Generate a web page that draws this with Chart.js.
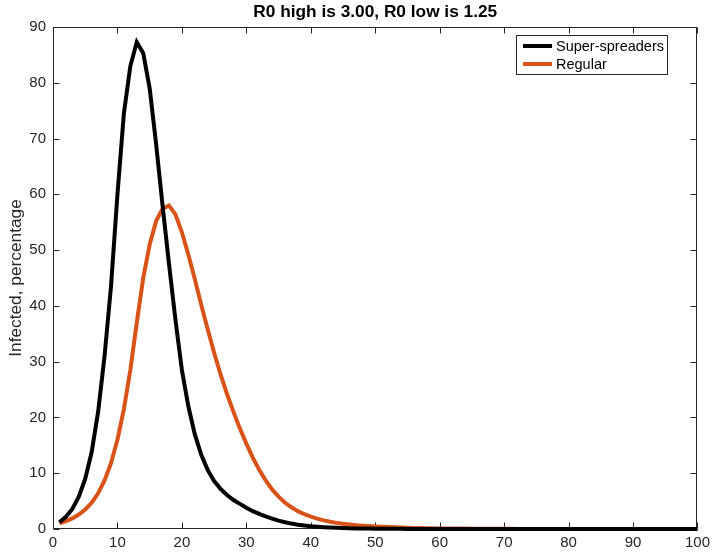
<!DOCTYPE html>
<html>
<head>
<meta charset="utf-8">
<script src="https://cdn.jsdelivr.net/npm/chart.js@4.4.0/dist/chart.umd.min.js"></script>
<style>
  html, body { margin: 0; padding: 0; background: #fff; }
  #wrap { width: 715px; height: 554px; }
</style>
</head>
<body>
<div id="wrap"><canvas id="sirChart" width="715" height="554"></canvas></div>
<script>
// days of the simulation
const days = [
    1, 2, 3, 4, 5, 6, 7, 8, 9, 10, 11, 12, 13, 14, 15, 16, 17, 18, 19, 20,
    21, 22, 23, 24, 25, 26, 27, 28, 29, 30, 31, 32, 33, 34, 35, 36, 37, 38, 39, 40,
    41, 42, 43, 44, 45, 46, 47, 48, 49, 50, 51, 52, 53, 54, 55, 56, 57, 58, 59, 60,
    61, 62, 63, 64, 65, 66, 67, 68, 69, 70, 71, 72, 73, 74, 75, 76, 77, 78, 79, 80,
    81, 82, 83, 84, 85, 86, 87, 88, 89, 90, 91, 92, 93, 94, 95, 96, 97, 98, 99, 100
];

// infected (%) - super-spreaders
const superSpreaders = [
    1.2, 2.2, 3.6, 5.8, 9.0, 13.8, 21.0, 31.0, 43.5, 60.0,
    74.5, 83.0, 87.3, 85.3, 79.0, 69.0, 58.0, 47.5, 37.5, 28.5,
    22.0, 17.0, 13.3, 10.6, 8.6, 7.2, 6.1, 5.2, 4.5, 3.8,
    3.2, 2.7, 2.25, 1.85, 1.5, 1.2, 0.97, 0.78, 0.63, 0.5,
    0.4, 0.32, 0.26, 0.21, 0.17, 0.14, 0.11, 0.09, 0.07, 0.06,
    0.05, 0.04, 0.03, 0.025, 0.02, 0.016, 0.013, 0.01, 0.008, 0.006,
    0.005, 0.004, 0.003, 0.003, 0.002, 0.002, 0.001, 0.001, 0.001, 0.001,
    0, 0, 0, 0, 0, 0, 0, 0, 0, 0,
    0, 0, 0, 0, 0, 0, 0, 0, 0, 0,
    0, 0, 0, 0, 0, 0, 0, 0, 0, 0
];

// infected (%) - regular
const regular = [
    1.0, 1.4, 1.9, 2.6, 3.5, 4.7, 6.4, 8.7, 11.8, 16.0,
    21.5, 28.5, 37.0, 45.0, 51.0, 55.2, 57.4, 58.0, 56.4, 53.2,
    49.2, 44.8, 40.2, 35.8, 31.6, 27.7, 24.2, 21.0, 18.0, 15.3,
    12.8, 10.6, 8.7, 7.1, 5.8, 4.7, 3.9, 3.2, 2.65, 2.2,
    1.85, 1.55, 1.3, 1.1, 0.93, 0.8, 0.69, 0.6, 0.52, 0.45,
    0.39, 0.34, 0.3, 0.26, 0.23, 0.2, 0.17, 0.15, 0.13, 0.11,
    0.1, 0.09, 0.08, 0.07, 0.06, 0.05, 0.045, 0.04, 0.035, 0.03,
    0.025, 0.022, 0.019, 0.016, 0.014, 0.012, 0.01, 0.009, 0.008, 0.007,
    0.006, 0.005, 0.005, 0.004, 0.004, 0.003, 0.003, 0.003, 0.002, 0.002,
    0.002, 0.002, 0.001, 0.001, 0.001, 0.001, 0.001, 0.001, 0.001, 0.001
];

const xTicks = [0, 10, 20, 30, 40, 50, 60, 70, 80, 90, 100];
const yTicks = [0, 10, 20, 30, 40, 50, 60, 70, 80, 90];

const titulo = 'R0 high is 3.00, R0 low is 1.25';
const FONTE = '"Liberation Sans", Arial, Helvetica, sans-serif';
const COR_EIXO = '#262626';

// caixa do eixo, ticks para dentro, titulo e legenda estilo matlab
const matlabAxes = {
    id: 'matlabAxes',
    beforeDatasetsDraw(chart) {
        const { ctx, chartArea: a, scales } = chart;
        const L = Math.round(a.left) + 0.5, R = Math.round(a.right) - 0.5;
        const T = Math.round(a.top) + 0.5, B = Math.round(a.bottom) - 0.5;
        const len = 6;
        ctx.save();
        ctx.strokeStyle = COR_EIXO;
        ctx.lineWidth = 1;
        ctx.strokeRect(L, T, R - L, B - T);
        ctx.beginPath();
        scales.x.ticks.forEach(t => {
            const px = Math.round(scales.x.getPixelForValue(t.value)) + 0.5;
            ctx.moveTo(px, B); ctx.lineTo(px, B - len);
            ctx.moveTo(px, T); ctx.lineTo(px, T + len);
        });
        scales.y.ticks.forEach(t => {
            const py = Math.round(scales.y.getPixelForValue(t.value)) + 0.5;
            ctx.moveTo(L, py); ctx.lineTo(L + len, py);
            ctx.moveTo(R, py); ctx.lineTo(R - len, py);
        });
        ctx.stroke();
        ctx.restore();
    },
    afterDatasetsDraw(chart) {
        const { ctx, chartArea: a } = chart;
        ctx.save();
        // titulo
        ctx.fillStyle = '#000';
        ctx.font = 'bold 17.3px ' + FONTE;
        ctx.textAlign = 'center';
        ctx.textBaseline = 'middle';
        ctx.fillText(titulo, (a.left + a.right) / 2, 12.5);

        // legenda
        const bx = 516.5, by = 35.5, bw = 151, bh = 39;
        ctx.fillStyle = '#fff';
        ctx.fillRect(bx, by, bw, bh);
        ctx.strokeStyle = COR_EIXO;
        ctx.lineWidth = 1;
        ctx.strokeRect(bx, by, bw, bh);
        ctx.font = '14.5px ' + FONTE;
        ctx.textAlign = 'left';
        chart.data.datasets.forEach((ds, i) => {
            const yy = 46 + i * 18;
            ctx.strokeStyle = ds.borderColor;
            ctx.lineWidth = ds.borderWidth;
            ctx.beginPath();
            ctx.moveTo(523, yy);
            ctx.lineTo(552, yy);
            ctx.stroke();
            ctx.fillStyle = '#000';
            ctx.fillText(ds.label, 556, yy + 0.5);
        });
        ctx.restore();
    }
};

const ctx = document.getElementById('sirChart').getContext('2d');

new Chart(ctx, {
    type: 'line',
    data: {
        datasets: [
            {
                label: 'Super-spreaders',
                data: days.map((d, i) => ({ x: d, y: superSpreaders[i] })),
                borderColor: '#000000',
                borderWidth: 4,
                pointRadius: 0,
                tension: 0,
                fill: false,
                clip: false,
            },
            {
                label: 'Regular',
                data: days.map((d, i) => ({ x: d, y: regular[i] })),
                borderColor: '#D95319',
                borderWidth: 4,
                pointRadius: 0,
                tension: 0,
                fill: false,
                clip: false,
            },
        ],
    },
    options: {
        responsive: false,
        animation: false,
        events: [],
        layout: {
            padding: { top: 27, right: 17, bottom: 0, left: 0 },
        },
        plugins: {
            legend: { display: false },
            tooltip: { enabled: false },
            title: { display: false },
        },
        scales: {
            x: {
                type: 'linear',
                min: 0,
                max: 100,
                afterBuildTicks: scale => { scale.ticks = xTicks.map(v => ({ value: v })); },
                afterFit: scale => { scale.height = 25; },
                grid: { display: false, drawTicks: false },
                border: { display: false },
                ticks: {
                    padding: 5,
                    color: COR_EIXO,
                    font: { family: FONTE, size: 15 },
                    maxRotation: 0,
                },
            },
            y: {
                type: 'linear',
                min: 0,
                max: 90,
                afterBuildTicks: scale => { scale.ticks = yTicks.map(v => ({ value: v })); },
                afterFit: scale => { scale.width = 53; },
                grid: { display: false, drawTicks: false },
                border: { display: false },
                title: {
                    display: true,
                    text: 'Infected, percentage',
                    color: COR_EIXO,
                    font: { family: FONTE, size: 17.3 },
                    padding: { top: 6, bottom: 0 },
                },
                ticks: {
                    padding: 7,
                    color: COR_EIXO,
                    font: { family: FONTE, size: 15 },
                },
            },
        },
    },
    plugins: [matlabAxes],
});
</script>
</body>
</html>
